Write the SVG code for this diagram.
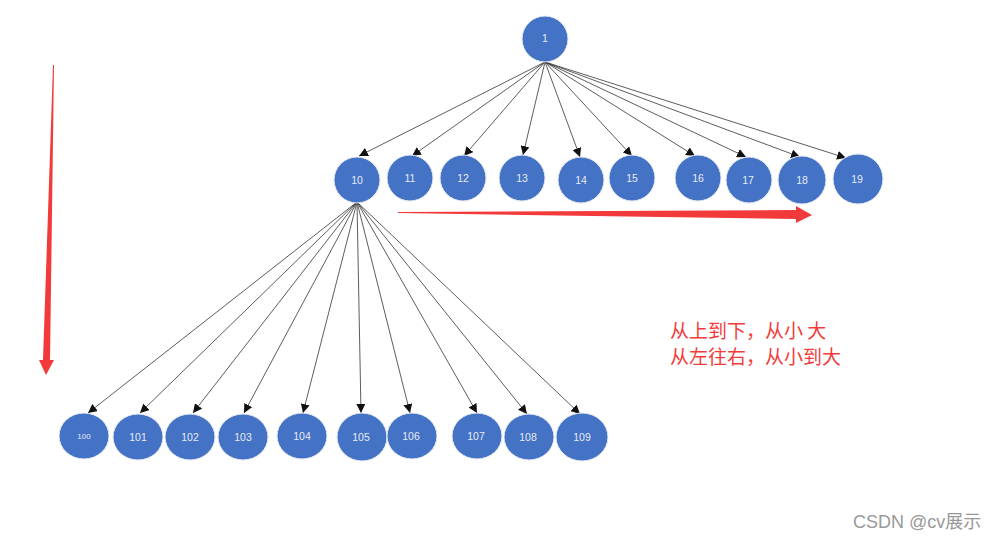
<svg xmlns="http://www.w3.org/2000/svg" width="999" height="541" viewBox="0 0 999 541">
<style>
.n{fill:#4472c4;stroke:#e8ecf5;stroke-width:1}
.t{font-family:"Liberation Sans",Arial,sans-serif;font-size:10.5px;fill:#e6ecf7;text-anchor:middle}
.e{stroke:#333;stroke-width:0.8;fill:none;marker-end:url(#ah)}
.r{font-family:"Noto Sans CJK SC","Noto Sans",sans-serif;font-size:19px;fill:#f23c3c}
</style>
<defs>
<marker id="ah" viewBox="0 0 10 10" refX="10" refY="5" markerWidth="9" markerHeight="9" markerUnits="userSpaceOnUse" orient="auto">
<path d="M0,0 L10,5 L0,10 z" fill="#111"/>
</marker>
</defs>
<rect width="999" height="541" fill="#fff"/>
<g id="connectors">
<line class="e" x1="545" y1="62" x2="359" y2="156"/>
<line class="e" x1="545" y1="62" x2="412" y2="156"/>
<line class="e" x1="545" y1="62" x2="464" y2="156"/>
<line class="e" x1="545" y1="62" x2="523" y2="155"/>
<line class="e" x1="545" y1="62" x2="580" y2="157"/>
<line class="e" x1="545" y1="62" x2="632" y2="156"/>
<line class="e" x1="545" y1="62" x2="695" y2="156"/>
<line class="e" x1="545" y1="62" x2="746" y2="157"/>
<line class="e" x1="545" y1="62" x2="800" y2="157"/>
<line class="e" x1="545" y1="62" x2="846" y2="158"/>
<line class="e" x1="357" y1="202" x2="88" y2="413"/>
<line class="e" x1="357" y1="202" x2="140" y2="413"/>
<line class="e" x1="357" y1="202" x2="193" y2="413"/>
<line class="e" x1="357" y1="202" x2="244" y2="413"/>
<line class="e" x1="357" y1="202" x2="303" y2="413"/>
<line class="e" x1="357" y1="202" x2="361" y2="413"/>
<line class="e" x1="357" y1="202" x2="410" y2="413"/>
<line class="e" x1="357" y1="202" x2="477" y2="413"/>
<line class="e" x1="357" y1="202" x2="527" y2="414"/>
<line class="e" x1="357" y1="202" x2="580" y2="414"/>
</g>
<g id="n1"><circle class="n" cx="545" cy="39" r="23"/><text class="t" x="545" y="42">1</text></g>
<g id="n10"><circle class="n" cx="357" cy="180" r="23"/><text class="t" x="357" y="184">10</text></g>
<g id="n11"><circle class="n" cx="410" cy="178" r="23"/><text class="t" x="410" y="182">11</text></g>
<g id="n12"><circle class="n" cx="463" cy="178" r="23"/><text class="t" x="463" y="182">12</text></g>
<g id="n13"><circle class="n" cx="522" cy="178" r="23"/><text class="t" x="522" y="182">13</text></g>
<g id="n14"><circle class="n" cx="581" cy="180" r="23"/><text class="t" x="581" y="184">14</text></g>
<g id="n15"><circle class="n" cx="632" cy="178" r="23"/><text class="t" x="632" y="182">15</text></g>
<g id="n16"><circle class="n" cx="698" cy="178" r="23"/><text class="t" x="698" y="182">16</text></g>
<g id="n17"><circle class="n" cx="749" cy="180" r="23"/><text class="t" x="748" y="184">17</text></g>
<g id="n18"><circle class="n" cx="802" cy="180" r="24"/><text class="t" x="802" y="184">18</text></g>
<g id="n19"><circle class="n" cx="858" cy="179" r="25"/><text class="t" x="857" y="183">19</text></g>
<g id="n100"><ellipse class="n" cx="84" cy="436" rx="25" ry="23"/><text class="t" x="84" y="439" style="font-size:8px">100</text></g>
<g id="n101"><ellipse class="n" cx="138" cy="437" rx="25" ry="23"/><text class="t" x="138" y="441">101</text></g>
<g id="n102"><ellipse class="n" cx="190" cy="437" rx="25" ry="23"/><text class="t" x="190" y="441">102</text></g>
<g id="n103"><ellipse class="n" cx="243" cy="437" rx="25" ry="23"/><text class="t" x="243" y="441">103</text></g>
<g id="n104"><ellipse class="n" cx="302" cy="436" rx="25" ry="23"/><text class="t" x="302" y="440">104</text></g>
<g id="n105"><ellipse class="n" cx="362" cy="437" rx="25" ry="24"/><text class="t" x="361" y="441">105</text></g>
<g id="n106"><ellipse class="n" cx="412" cy="436" rx="25" ry="23"/><text class="t" x="411" y="440">106</text></g>
<g id="n107"><ellipse class="n" cx="477" cy="436" rx="25" ry="23"/><text class="t" x="476" y="440">107</text></g>
<g id="n108"><ellipse class="n" cx="529" cy="437" rx="25" ry="23"/><text class="t" x="528" y="441">108</text></g>
<g id="n109"><ellipse class="n" cx="582" cy="437" rx="26" ry="24"/><text class="t" x="582" y="441">109</text></g>
<g id="red-arrows" fill="#f23a3a">
<polygon points="53,65 54,65 50,360 54,360 46,375 39,360 43,360"/>
<polygon points="398,213 398,212 796,210 796,206 812,215 796,223 796,219"/>
</g>
<text class="r" x="670" y="338">从上到下，从小 大</text>
<text class="r" x="670" y="364">从左往右，从小到大</text>
<text x="853" y="528" style="font-family:'Liberation Sans','Noto Sans CJK SC',sans-serif;font-size:18px;fill:#999">CSDN @cv展示</text>
</svg>
